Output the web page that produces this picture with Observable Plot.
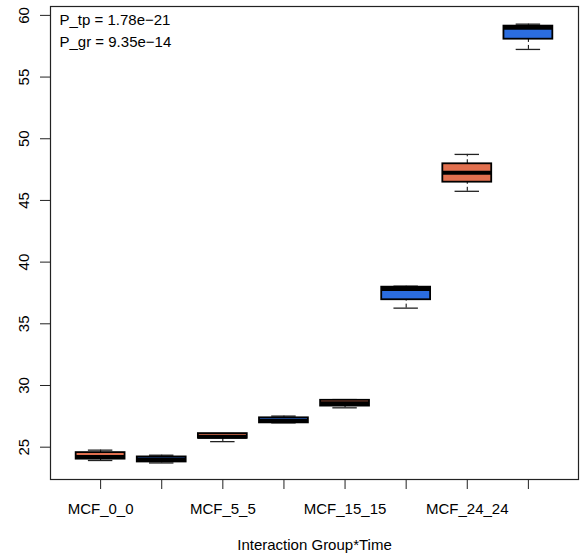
<!DOCTYPE html>
<html>
<head>
<meta charset="utf-8">
<script src="https://cdn.jsdelivr.net/npm/d3@7"></script>
<script src="https://cdn.jsdelivr.net/npm/@observablehq/plot@0.6"></script>
<style>
  body { margin: 0; background: #fff; }
  #chart svg { display: block; }
</style>
</head>
<body>
<div id="chart"></div>
<script>
// Box statistics per interaction group (position on the x axis)
const positions = [1, 2, 3, 4, 5, 6, 7, 8];
const xLabels = ["MCF_0_0", "", "MCF_5_5", "", "MCF_15_15", "", "MCF_24_24", ""];
const fills = ["#E2704F", "#2B6DE0", "#E2704F", "#2B6DE0", "#E2704F", "#2B6DE0", "#E2704F", "#2B6DE0"];
const lowerWhisker = [23.92, 23.72, 25.45, 26.97, 28.19, 36.27, 45.74, 57.24];
const q1 = [24.03, 23.80, 25.72, 26.97, 28.33, 36.95, 46.48, 58.07];
const medians = [24.20, 24.00, 25.85, 27.15, 28.57, 37.82, 47.24, 59.00];
const q3 = [24.56, 24.21, 26.10, 27.38, 28.80, 37.97, 47.97, 59.13];
const upperWhisker = [24.76, 24.35, 26.10, 27.52, 28.86, 38.05, 48.73, 59.29];

const yTicks = [25, 30, 35, 40, 45, 50, 55, 60];
const pNames = ["P_tp", "P_gr"];
const pValues = ["1.78e\u221221", "9.35e\u221214"];
const xTitle = "Interaction Group*Time";

const boxes = positions.map((p, i) => ({
  pos: p, fill: fills[i],
  lo: lowerWhisker[i], q1: q1[i], med: medians[i], q3: q3[i], hi: upperWhisker[i]
}));
const boxHalf = 0.4;   // box width 0.8
const capHalf = 0.2;   // staple width 0.4

const chart = Plot.plot({
  width: 584,
  height: 558,
  marginTop: 6,
  marginRight: 6,
  marginBottom: 79,
  marginLeft: 50,
  style: { fontFamily: "'Liberation Sans', Arial, sans-serif", fontSize: "15px", color: "#000", background: "#fff" },
  x: { type: "linear", domain: [0.18, 8.82], axis: null },
  y: { domain: [22.38, 60.72], axis: null },
  marks: [
    // whiskers (dashed) and staples
    Plot.ruleX(boxes, { x: "pos", y1: "q3", y2: "hi", stroke: "#000", strokeWidth: 1, strokeDasharray: "4,3" }),
    Plot.ruleX(boxes, { x: "pos", y1: "lo", y2: "q1", stroke: "#000", strokeWidth: 1, strokeDasharray: "4,3" }),
    Plot.ruleY(boxes, { y: "hi", x1: d => d.pos - capHalf, x2: d => d.pos + capHalf, stroke: "#222", strokeWidth: 1.3 }),
    Plot.ruleY(boxes, { y: "lo", x1: d => d.pos - capHalf, x2: d => d.pos + capHalf, stroke: "#222", strokeWidth: 1.3 }),
    // boxes
    Plot.rect(boxes, { x1: d => d.pos - boxHalf, x2: d => d.pos + boxHalf, y1: "q1", y2: "q3", fill: "fill", stroke: "#000", strokeWidth: 1.8 }),
    // medians
    Plot.ruleY(boxes, { y: "med", x1: d => d.pos - boxHalf, x2: d => d.pos + boxHalf, stroke: "#000", strokeWidth: 4 }),
    // frame
    Plot.frame({ stroke: "#222", strokeWidth: 1.2 }),
    // x axis
    Plot.axisX({ ticks: positions, tickSize: 10, tickPadding: 14, tickFormat: d => xLabels[d - 1], label: null, fontSize: 15, stroke: "#222" }),
    Plot.text([xTitle], { text: d => d, frameAnchor: "bottom", dy: 66, lineAnchor: "middle", fontSize: 15 }),
    // y axis: ticks and rotated labels
    Plot.axisY({ ticks: yTicks, tickSize: 10, tickFormat: () => "", label: null, stroke: "#222" }),
    Plot.text(yTicks, { y: d => d, text: d => String(d), frameAnchor: "left", dx: -26, rotate: -90, textAnchor: "middle", lineAnchor: "middle", fontSize: 15 }),
    // p-value annotations
    Plot.text([0], { text: () => `${pNames[0]} = ${pValues[0]}`, frameAnchor: "top-left", dx: 9, dy: 8, textAnchor: "start", lineAnchor: "top", fontSize: 15 }),
    Plot.text([1], { text: () => `${pNames[1]} = ${pValues[1]}`, frameAnchor: "top-left", dx: 9, dy: 30, textAnchor: "start", lineAnchor: "top", fontSize: 15 })
  ]
});
document.getElementById("chart").appendChild(chart);
</script>
</body>
</html>
